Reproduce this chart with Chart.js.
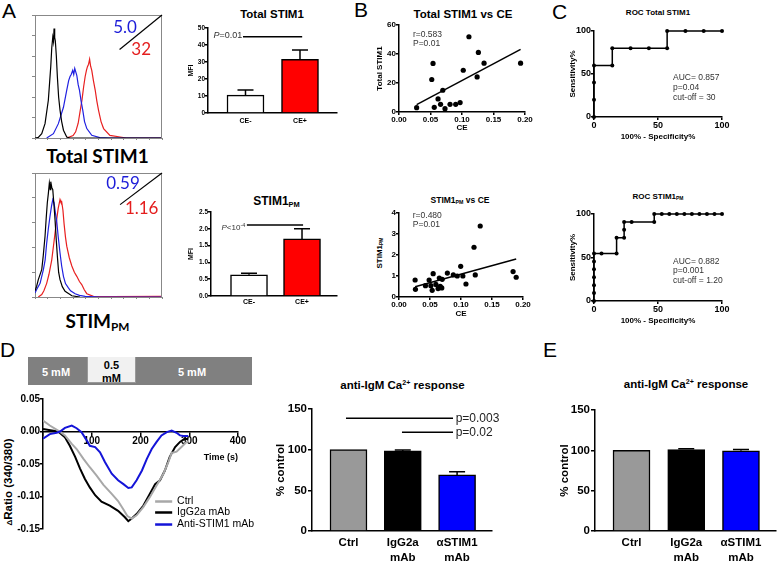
<!DOCTYPE html>
<html><head><meta charset="utf-8">
<script src="https://cdn.jsdelivr.net/npm/chart.js@4.4.1/dist/chart.umd.min.js"></script>
<style>
html,body{margin:0;padding:0;background:#fff}
body{width:778px;height:562px;position:relative;overflow:hidden;font-family:"Liberation Sans",Arial,sans-serif}
canvas{position:absolute}
.t{position:absolute;white-space:nowrap;line-height:1;transform:translate(-50%,-50%);color:#000}
.r{transform:translate(-50%,-50%) rotate(-90deg)}
.b{font-weight:bold}
.sb{font-size:62%;vertical-align:-0.3em;line-height:0}
.sp{font-size:62%;vertical-align:0.6em;line-height:0}
.lato{font-family:Lato,"Liberation Sans",sans-serif}
.box{position:absolute}
</style></head><body>
<div class="box" style="left:28px;top:357px;width:224px;height:28px;background:#808080"></div>
<div class="box" style="left:87px;top:357px;width:47px;height:25px;background:#f1f1f1;border-left:1px solid #999;border-right:1px solid #999;border-bottom:1px solid #999"></div>
<div class="t b" style="left:56px;top:372px;font-size:11px;color:#fff">5 mM</div>
<div class="t b" style="left:111.5px;top:365px;font-size:11px">0.5</div>
<div class="t b" style="left:111.5px;top:378px;font-size:11px">mM</div>
<div class="t b" style="left:192px;top:372px;font-size:11px;color:#fff">5 mM</div>

<div class="t" style="left:9px;top:9.5px;font-size:21px">A</div>
<div class="t" style="left:361px;top:8.5px;font-size:21px">B</div>
<div class="t" style="left:559.5px;top:10.5px;font-size:21px">C</div>
<div class="t" style="left:7.5px;top:349px;font-size:21px">D</div>
<div class="t" style="left:550px;top:349px;font-size:21px">E</div>
<div class="t b lato" style="left:97.5px;top:155px;font-size:19px">Total STIM1</div>
<div class="t b lato" style="left:97.5px;top:320px;font-size:19px">STIM<span class="sb">PM</span></div>
<div class="t b" style="left:272px;top:15px;font-size:11.5px">Total STIM1</div>
<div class="t b" style="left:276.5px;top:201px;font-size:12px">STIM1<span class="sb">PM</span></div>
<div class="t b" style="left:463px;top:15px;font-size:11.5px">Total STIM1 vs CE</div>
<div class="t b" style="left:460px;top:200px;font-size:8.5px">STIM1<span class="sb">PM</span> vs CE</div>
<div class="t b" style="left:658px;top:13px;font-size:8px">ROC Total STIM1</div>
<div class="t b" style="left:658px;top:197px;font-size:8px">ROC STIM1<span class="sb">PM</span></div>
<div class="t b r" style="left:380px;top:253px;font-size:8px">STIM1<span class="sb">PM</span></div>
<div class="t b r" style="left:9px;top:482px;font-size:11.5px"><span style="font-size:70%">Δ</span>Ratio (340/380)</div>
<div class="t b" style="left:402.5px;top:385.5px;font-size:11.5px">anti-IgM Ca<span class="sp">2+</span> response</div>
<div class="t b" style="left:686px;top:385px;font-size:11.5px">anti-IgM Ca<span class="sp">2+</span> response</div>

<script>
// ===================== DATA =====================
// Panel A - flow histograms (x: fluorescence position 0-100, y: counts scaled to 0-60)
const hist1Iso = [[0,0],[2.6,0.3],[5.3,2.1],[7.9,7],[10.5,18.4],[11.5,27],[12.4,34.8],[13.2,44],[14,49.2],[14.6,47],[15,53.4],[15.5,49],[16,47.4],[16.8,40],[17.6,30],[18.6,20],[19.7,13.6],[21,8],[22.4,3.8],[25,0.5],[27.6,0],[100,0]];
const hist1Neg = [[9.2,0],[14.5,2.1],[18.4,7],[22.4,15],[25,23.4],[26.5,28],[27.6,30],[28.5,31],[29.7,33],[30.5,31],[31.3,33.9],[32.2,32],[32.9,30.6],[34,26],[35,23.4],[36.3,18],[37.6,13.6],[39,8],[40.8,4.6],[44.7,1.3],[51,0.2],[59,0],[100,0]];
const hist1Pos = [[25,0],[30,1.2],[32,3],[34,7.2],[35.5,13],[37,18.6],[38.3,25],[39.5,30],[40.5,33],[41.3,34.8],[42.2,36],[43,38.4],[43.8,35],[44.7,33],[46,28],[47.4,23.4],[48.7,18],[50,13.6],[52,8],[54,4.6],[59,1.3],[67,0.5],[72,0],[100,0]];
const hist1Ratio = ['5.0','32'];
const hist2Iso = [[0,3],[1.3,5.2],[2.6,8.4],[5.3,13.2],[6.5,20],[7.9,29.4],[8.8,38],[9.7,45.6],[10.5,50],[11.3,55.2],[12,52],[12.4,55.8],[13.2,53],[14,51.9],[15,44],[15.8,37.2],[16.7,28],[17.6,19.8],[18.6,12],[19.7,8.4],[21.5,5],[23.7,2.8],[29,0.6],[35.5,0]];
const hist2Neg = [[0,2],[1.3,3.6],[4,6.6],[6.6,13.2],[8,18],[9.2,26.1],[10.5,33],[11.8,39],[13,44],[14,47.1],[15,45.6],[16,41],[17,37.2],[18.3,29],[19.7,21.3],[21,15],[22.4,10],[24,6.5],[26.3,4.4],[28,3],[31.6,1.6],[35,0.8],[39.5,0.3],[51,0],[100,0]];
const hist2Pos = [[2.6,0],[5.3,1.2],[7,3],[9.2,6.6],[11,11],[13.2,18],[15,27],[17,37.2],[18.3,43],[19.7,47.1],[20.3,46],[21,46.2],[22,42],[22.9,35.4],[24,29],[25,24.6],[27,19],[29,15],[31,12],[32.9,10],[35,7.5],[36.8,6],[38.8,3.5],[40.8,1.6],[46,0.3],[60,0.2],[100,0.3]];
const hist2Ratio = ['0.59','1.16'];

// Panel A - MFI bars
const ceCats = ['CE-','CE+'];
const totalMean = [10.5, 31.5];
const totalSem = [3.0, 5.5];
const pmMean = [0.63, 1.70];
const pmSem = [0.05, 0.30];
const ceColors = ['#ffffff','#ff0000'];

// Panel B - correlations (CE, value)
const scatterTotal = [[0.028,3.0],[0.052,22.4],[0.054,33.5],[0.056,3.2],[0.062,9.0],[0.066,5.3],[0.0695,15],[0.073,2.3],[0.081,5.3],[0.090,5.3],[0.097,6.5],[0.102,28.8],[0.111,51.9],[0.124,24.2],[0.126,41.1],[0.135,33.7],[0.193,33.7]];
const fitTotal = [[0.028,5.1],[0.193,43.2]];
const scatterPM = [[0.026,0.81],[0.0265,0.365],[0.0427,0.54],[0.0486,0.81],[0.0514,0.54],[0.0535,0.32],[0.0551,1.11],[0.0595,0.60],[0.063,0.40],[0.065,0.90],[0.0665,0.51],[0.069,0.43],[0.0697,0.84],[0.078,1.14],[0.0876,1.05],[0.094,1.0],[0.0995,1.46],[0.103,1.0],[0.108,0.62],[0.121,2.37],[0.123,1.05],[0.131,3.38],[0.184,1.21],[0.189,0.94]];
const fitPM = [[0.026,0.49],[0.189,1.81]];

// Panel C - ROC curves (100-specificity, sensitivity)
const rocTotal = [[0,0],[0,20],[0,40],[0,60],[14.29,60],[14.29,80],[28.57,80],[42.86,80],[57.14,80],[57.14,100],[71.43,100],[85.71,100],[100,100]];
const rocPM = [[0,0],[0,9.09],[0,18.18],[0,27.27],[0,36.36],[0,45.45],[0,54.55],[5.88,54.55],[17.65,54.55],[17.65,72.73],[23.53,72.73],[23.53,81.82],[23.53,90.91],[29.41,90.91],[47.06,90.91],[47.06,100],[52.94,100],[58.82,100],[64.71,100],[70.59,100],[76.47,100],[82.35,100],[88.24,100],[94.12,100],[100,100]];

// Panel D - Ca2+ traces (time s, delta ratio)
const traceCtrl = [[0,0.017],[14,0.0092],[31,0.0015],[45,-0.006],[59,-0.019],[69,-0.027],[83,-0.042],[96,-0.055],[110,-0.068],[124,-0.082],[141,-0.096],[154,-0.107],[165,-0.12],[173,-0.13],[182,-0.134],[192,-0.129],[206,-0.116],[219,-0.101],[233,-0.083],[247,-0.065],[257,-0.047],[264,-0.033],[274,-0.031],[284,-0.024],[295,-0.016],[298,-0.015]];
const traceIgG = [[0,0.004],[15,0.002],[31,0],[45,-0.009],[55,-0.022],[66,-0.039],[76,-0.057],[86,-0.073],[96,-0.086],[107,-0.098],[120,-0.108],[137,-0.114],[154,-0.122],[168,-0.132],[175,-0.138],[182,-0.134],[192,-0.127],[206,-0.114],[219,-0.096],[230,-0.081],[240,-0.075],[250,-0.06],[260,-0.039],[271,-0.024],[281,-0.016],[291,-0.011],[298,-0.012]];
const traceAnti = [[0,-0.011],[14,-0.004],[28,-0.002],[35,0],[45,0.0056],[59,0.0092],[69,0.005],[79,-0.001],[90,-0.014],[96,-0.022],[107,-0.024],[117,-0.032],[127,-0.047],[141,-0.065],[154,-0.075],[165,-0.081],[175,-0.087],[182,-0.086],[192,-0.075],[203,-0.06],[213,-0.042],[223,-0.027],[233,-0.016],[243,-0.006],[254,-0.001],[264,0.0015],[274,-0.002],[281,-0.006],[288,-0.007],[298,-0.007]];
const traceNames = ['Ctrl','IgG2a mAb','Anti-STIM1 mAb'];

// Panels D/E - % control bars
const caCats = [['Ctrl'],['IgG2a','mAb'],['\u03b1STIM1','mAb']];
const caMeanD = [100, 98.5, 69];
const caSemD = [0, 1, 4];
const caMeanE = [100, 101, 99.5];
const caSemE = [0, 1, 1.5];
const caColors = ['#999999','#000000','#0000ff'];

// ===================== HELPERS =====================
const FF = '"Liberation Sans", Arial, Helvetica, sans-serif';
Chart.defaults.font.family = FF;
Chart.defaults.color = '#000';
Chart.defaults.animation = false;
Chart.defaults.events = [];
Chart.defaults.plugins.legend.display = false;
Chart.defaults.plugins.tooltip.enabled = false;

const xy = arr => arr.map(p => ({x:p[0], y:p[1]}));

function lin(o){
  const s = {type:'linear', min:o.min, max:o.max, offset:false,
    border:{display:true, color:o.c||'#000', width:o.lw||1.5},
    grid:{display:true, offset:false, drawOnChartArea:false, drawTicks:(o.tl||0)>0, tickLength:o.tl||0, color:o.c||'#000', lineWidth:o.lw||1.5},
    ticks:{display:(o.fs||0)>0, padding:o.pad||0, color:'#000', maxRotation:0, autoSkip:false,
      font:{family:FF, size:o.fs||8, weight:'bold', lineHeight:o.lh||1.2}},
    title:{display:!!o.title, text:o.title||'', color:'#000', align:o.talign||'center',
      font:{family:FF, size:o.tfs||8, weight:'bold'}, padding:{top:o.tpt||0, bottom:o.tpb||0}}};
  if (o.step) s.ticks.stepSize = o.step;
  if (o.fmt) s.ticks.callback = o.fmt;
  if (o.cats) { s.afterBuildTicks = sc => { sc.ticks = o.cats.map((c,i)=>({value:i})); }; s.ticks.callback = v => o.cats[v]; }
  if (o.pos) s.position = o.pos;
  return s;
}

function notes(o){
  return {id:'notes', afterDatasetsDraw(ch){
    const ctx = ch.ctx, X = ch.scales.x, Y = ch.scales.y, a = ch.chartArea;
    ctx.save();
    if (o.frame){ ctx.strokeStyle=o.frame; ctx.lineWidth=1; ctx.beginPath();
      ctx.moveTo(a.left, a.top+0.5); ctx.lineTo(a.right-0.5, a.top+0.5); ctx.lineTo(a.right-0.5, a.bottom); ctx.stroke(); }
    (o.errs||[]).forEach(e => { if(!e.e) return;
      const px = X.getPixelForValue(e.i), y0 = Y.getPixelForValue(e.v), y1 = Y.getPixelForValue(e.v+e.e);
      ctx.strokeStyle='#000'; ctx.lineWidth=1.5; ctx.beginPath();
      ctx.moveTo(px,y0); ctx.lineTo(px,y1); ctx.moveTo(px-e.w/2,y1); ctx.lineTo(px+e.w/2,y1); ctx.stroke(); });
    (o.segs||[]).forEach(s => { ctx.strokeStyle=s.c||'#000'; ctx.lineWidth=s.w||1.5; ctx.beginPath();
      ctx.moveTo(X.getPixelForValue(s.x1), Y.getPixelForValue(s.y1)); ctx.lineTo(X.getPixelForValue(s.x2), Y.getPixelForValue(s.y2)); ctx.stroke(); });
    (o.texts||[]).forEach(t => {
      const ws = t.parts.map(p => { ctx.font=p.f; return ctx.measureText(p.s).width; });
      const w = ws.reduce((u,v)=>u+v,0);
      let x = X.getPixelForValue(t.x); if (t.align==='center') x -= w/2; else if (t.align==='right') x -= w;
      const y = Y.getPixelForValue(t.y);
      ctx.textBaseline='middle'; ctx.textAlign='left';
      t.parts.forEach((p,i) => { ctx.font=p.f; ctx.fillStyle=p.c||t.c||'#000'; ctx.fillText(p.s, x, y+(p.dy||0)); x += ws[i]; });
    });
    ctx.restore();
  }};
}

function mk(box, area, yW, xH, cfg, xFloat){
  const c = document.createElement('canvas');
  c.width = box.w; c.height = box.h;
  c.style.left = box.x+'px'; c.style.top = box.y+'px'; c.style.width = box.w+'px'; c.style.height = box.h+'px';
  document.body.appendChild(c);
  cfg.options.responsive = false; cfg.options.devicePixelRatio = 1; cfg.options.animation = false;
  cfg.options.layout = {padding:{left:area.l-box.x-yW, top:area.t-box.y, right:box.x+box.w-area.r, bottom:box.y+box.h-area.b-(xFloat?0:xH)}};
  cfg.options.scales.x.afterFit = s => { s.height = xH; };
  cfg.options.scales.y.afterFit = s => { s.width = yW; };
  return new Chart(c.getContext('2d'), cfg);
}

const lineDs = (arr, col, w) => ({data:xy(arr), borderColor:col, borderWidth:w||1.2, pointRadius:0, fill:false, tension:0});
const F = (st, sz, fam) => `${st} ${sz}px ${fam||FF}`;
const LATO = 'Lato, "Liberation Sans", sans-serif';

// ===================== PANEL A: histograms =====================
function histo(box, area, iso, neg, pos, ratio, step, diag, tpos){
  mk(box, area, 5, 3, {type:'line',
    data:{datasets:[lineDs(iso,'#000'), lineDs(neg,'#2020e0'), lineDs(pos,'#e82020')]},
    options:{scales:{x:lin({min:0,max:100,step:10,tl:2,c:'#888',lw:1}), y:lin({min:0,max:60,step:step,tl:3,c:'#888',lw:1})}},
    plugins:[notes({frame:'#888',
      segs:[{x1:diag[0],y1:diag[1],x2:100,y2:60,w:1.2}],
      texts:[{x:tpos[0],y:tpos[1],align:'center',parts:[{s:ratio[0],f:F('normal',17,LATO),c:'#1c1cd8'}]},
             {x:tpos[2],y:tpos[3],align:'center',parts:[{s:ratio[1],f:F('normal',17,LATO),c:'#e41e1e'}]}]})]});
}
histo({x:28,y:8,w:139,h:135},{l:35,t:15,r:162,b:138}, hist1Iso, hist1Neg, hist1Pos, hist1Ratio, 10, [66.6,43.2], [70.9,53.9,83.6,43.3]);
histo({x:28,y:166,w:139,h:136},{l:35,t:173,r:162,b:297}, hist2Iso, hist2Neg, hist2Pos, hist2Ratio, 12, [67,44.7], [69.3,55,84,42.7]);

// ===================== PANEL A: MFI bars =====================
function mfiBar(box, area, yW, vals, sems, yo, xr, sig){
  mk(box, area, yW, 16, {type:'bar',
    data:{datasets:[{data:vals.map((v,i)=>({x:i,y:v})), backgroundColor:ceColors, borderColor:'#000', borderWidth:1.5, barThickness:37}]},
    options:{scales:{
      x:lin({min:xr[0],max:xr[1],cats:ceCats,fs:7,pad:xr[2]}),
      y:lin({min:0,max:yo.max,step:yo.step,tl:3,fs:6.5,fmt:yo.fmt,title:'MFI',tfs:7})}},
    plugins:[notes({errs:vals.map((v,i)=>({i,v,e:sems[i],w:16})), segs:[{x1:sig.x1,x2:sig.x2,y1:sig.y,y2:sig.y,w:1.5}],
      texts:[{x:sig.tx,y:sig.ty,align:'right',c:'#333',parts:sig.parts}]})]});
}
mfiBar({x:184,y:18,w:161,h:114},{l:208,t:28,r:337,b:113},21,totalMean,totalSem,{max:50,step:10},[-0.688,1.679,4],
  {x1:-0.046,x2:1.04,y:44.8,tx:-0.06,ty:45.6,parts:[{s:'P',f:F('italic',9)},{s:'=0.01',f:F('normal',9)}]});
mfiBar({x:184,y:205,w:161,h:110},{l:211,t:212,r:337,b:296},24,pmMean,pmSem,{max:2.5,step:0.5,fmt:v=>v.toFixed(1)},[-0.717,1.66,2],
  {x1:-0.04,x2:1.02,y:2.11,tx:-0.07,ty:2.02,parts:[{s:'P',f:F('italic',8)},{s:'<10',f:F('normal',8)},{s:'-4',f:F('normal',5.5),dy:-3}]});

// ===================== PANEL B: correlations =====================
function scat(box, area, pts, fit, yo, txt){
  mk(box, area, 27, 23, {type:'scatter',
    data:{datasets:[{data:xy(pts), pointRadius:2.6, pointBackgroundColor:'#000', pointBorderColor:'#000', pointBorderWidth:0, clip:false},
                    {type:'line', data:xy(fit), borderColor:'#000', borderWidth:1.5, pointRadius:0, showLine:true, fill:false}]},
    options:{scales:{
      x:lin({min:0,max:0.2,step:0.05,tl:3,fs:8,fmt:v=>v.toFixed(2),title:'CE',tfs:8,tpb:yo.tpb}),
      y:lin({min:0,max:yo.max,step:yo.step,tl:3,fs:8,title:yo.title,tfs:8,tpt:3})}},
    plugins:[notes({texts:[{x:0.0222,y:txt[0],c:'#333',parts:[{s:txt[2],f:F('normal',8.5)}]},
                           {x:0.0222,y:txt[1],c:'#333',parts:[{s:'P=0.01',f:F('normal',8.5)}]}]})]});
}
scat({x:372,y:17,w:161,h:118},{l:399,t:25,r:525,b:112},scatterTotal,fitTotal,{max:60,step:20,title:'Total STIM1',tpb:2},[53.3,47.2,'r=0.583']);
scat({x:372,y:205,w:159,h:115},{l:399,t:213,r:523,b:297},scatterPM,fitPM,{max:4,step:1,title:'',tpb:1},[3.88,3.45,'r=0.480']);

// ===================== PANEL C: ROC =====================
function roc(box, area, pts, lines, ys){
  mk(box, area, 26, 25, {type:'line',
    data:{datasets:[{data:xy(pts), borderColor:'#000', borderWidth:1.5, pointRadius:2, pointBackgroundColor:'#000', pointBorderWidth:0, clip:false, tension:0}]},
    options:{scales:{
      x:lin({min:0,max:100,step:50,tl:3,fs:9,title:'100% - Specificity%',tfs:8}),
      y:lin({min:0,max:100,step:50,tl:3,fs:9,title:'Sensitivity%',tfs:8})}},
    plugins:[notes({texts:lines.map((s,i)=>({x:61.7,y:ys[i],c:'#333',parts:[{s,f:F('normal',8.5)}]}))})]});
}
roc({x:568,y:22,w:164,h:120},{l:594,t:31,r:722,b:117},rocTotal,['AUC= 0.857','p=0.04','cut-off = 30'],[45.6,34,22.3]);
roc({x:568,y:205,w:164,h:121},{l:594,t:214,r:722,b:301},rocPM,['AUC= 0.882','p=0.001','cut-off = 1.20'],[45.7,35.3,23.8]);

// ===================== PANEL D: traces =====================
const trCols = ['#a8a8a8','#000000','#1414d8'];
mk({x:0,y:392,w:260,h:148},{l:43,t:399,r:238,b:529},43,31,{type:'line',
  data:{datasets:[
    Object.assign(lineDs(traceAnti,trCols[2],2),{order:0}),
    Object.assign(lineDs(traceCtrl,trCols[0],2),{order:1}),
    Object.assign(lineDs(traceIgG,trCols[1],2),{order:2})]},
  options:{scales:{
    x:lin({min:0,max:400,step:100,tl:4,fs:10,pos:{y:0},fmt:v=>v===0?'':String(v),title:'Time (s)',tfs:9,talign:'end'}),
    y:lin({min:-0.15,max:0.05,step:0.05,tl:3,fs:10,fmt:v=>Math.abs(v)<1e-9?'0.00':v.toFixed(2)})}},
  plugins:[notes({
    segs:[-0.1077,-0.1246,-0.1431].map((y,i)=>({x1:230,x2:265,y1:y,y2:y,c:trCols[i],w:2.5})),
    texts:[-0.1077,-0.1246,-0.1431].map((y,i)=>({x:275,y,parts:[{s:traceNames[i],f:F('normal',10.5)}]}))})]}, true);

// ===================== PANELS D/E: % control bars =====================
function caBar(box, area, yW, padL, vals, sems, xr, extra){
  mk(box, area, yW, 31, {type:'bar',
    data:{datasets:[{data:vals.map((v,i)=>({x:i,y:v})), backgroundColor:caColors, borderColor:'#000', borderWidth:1.5, barThickness:37}]},
    options:{scales:{
      x:lin({min:xr[0],max:xr[1],cats:caCats,fs:11.5,lh:1.3,pad:4.5}),
      y:lin({min:0,max:150,step:50,tl:4,pad:1,fs:11.5,title:'% control',tfs:11.5})}},
    plugins:[notes(Object.assign({errs:vals.map((v,i)=>({i,v,e:sems[i],w:16}))}, extra))]});
}
caBar({x:272,y:400,w:228,h:162},{l:312,t:409,r:492,b:531},38,2,caMeanD,caSemD,[-0.672,2.643],
  {segs:[{x1:-0.046,x2:1.925,y1:138.6,y2:138.6},{x1:0.985,x2:1.925,y1:121.3,y2:121.3}],
   texts:[{x:1.974,y:138.6,c:'#222',parts:[{s:'p=0.003',f:F('normal',12)}]},{x:1.974,y:121.3,c:'#222',parts:[{s:'p=0.02',f:F('normal',12)}]}]});
caBar({x:555,y:400,w:223,h:162},{l:595,t:410,r:776,b:531},37,3,caMeanE,caSemE,[-0.667,2.64],{});
</script>
</body></html>
